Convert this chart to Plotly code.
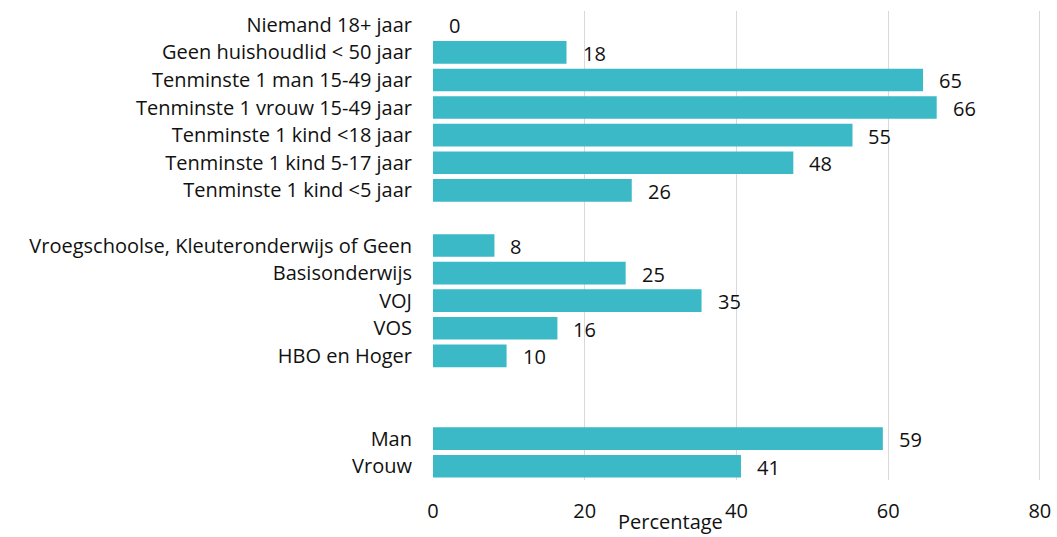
import plotly.graph_objects as go

# Data
household_labels = ["Niemand 18+ jaar", "Geen huishoudlid < 50 jaar", "Tenminste 1 man 15-49 jaar",
                    "Tenminste 1 vrouw 15-49 jaar", "Tenminste 1 kind <18 jaar",
                    "Tenminste 1 kind 5-17 jaar", "Tenminste 1 kind <5 jaar"]
household_values = [0.0, 17.6, 64.6, 66.4, 55.3, 47.5, 26.2]

education_labels = ["Vroegschoolse, Kleuteronderwijs of Geen", "Basisonderwijs", "VOJ", "VOS", "HBO en Hoger"]
education_values = [8.1, 25.4, 35.4, 16.4, 9.7]

sex_labels = ["Man", "Vrouw"]
sex_values = [59.3, 40.6]

# empty slots after each group
groups = [(household_labels, household_values, 1), (education_labels, education_values, 2), (sex_labels, sex_values, 0)]

labels, values, pos = [], [], []
slot = 0
for lab, val, gap in groups:
    for l, v in zip(lab, val):
        labels.append(l)
        values.append(v)
        pos.append(slot)
        slot += 1
    slot += gap
n_slots = slot

FONT = "Open Sans"
FS = 20
BAR = "#3bb9c6"
TXT = "#111111"

fig = go.Figure()
fig.add_trace(go.Bar(
    x=values, y=pos, orientation="h",
    marker=dict(color=BAR, line=dict(width=0)),
    width=0.82, hoverinfo="x+y",
))

for v, p in zip(values, pos):
    fig.add_annotation(x=v, y=p, text=str(int(v + 0.5)), showarrow=False,
                       xanchor="left", xshift=14, yshift=-1,
                       font=dict(family=FONT, size=FS, color=TXT))

fig.add_annotation(x=0.39, y=-0.121, xref="paper", yref="paper", text="Percentage",
                   showarrow=False, xanchor="center", yanchor="bottom",
                   font=dict(family=FONT, size=FS, color=TXT))

fig.update_layout(
    width=1057, height=537,
    margin=dict(l=433, r=16, t=11, b=57),
    paper_bgcolor="white", plot_bgcolor="white",
    showlegend=False,
    font=dict(family=FONT, size=FS, color=TXT),
)
fig.update_xaxes(range=[0, 80.15], tickvals=[0, 20, 40, 60, 80], showgrid=True,
                 gridcolor="#d9d9d9", gridwidth=1, zeroline=False, showline=False,
                 ticks="", ticklabelstandoff=17, automargin=False,
                 tickfont=dict(family=FONT, size=FS))
fig.update_yaxes(range=[n_slots - 0.5, -0.5], tickvals=pos, ticktext=labels,
                 showgrid=False, zeroline=False, showline=False, ticks="",
                 ticklabelstandoff=20, automargin=False,
                 tickfont=dict(family=FONT, size=FS))

fig.write_html("out.html", config={"displayModeBar": False},
               post_script="document.body.style.margin='0px';document.body.style.overflow='hidden';")
